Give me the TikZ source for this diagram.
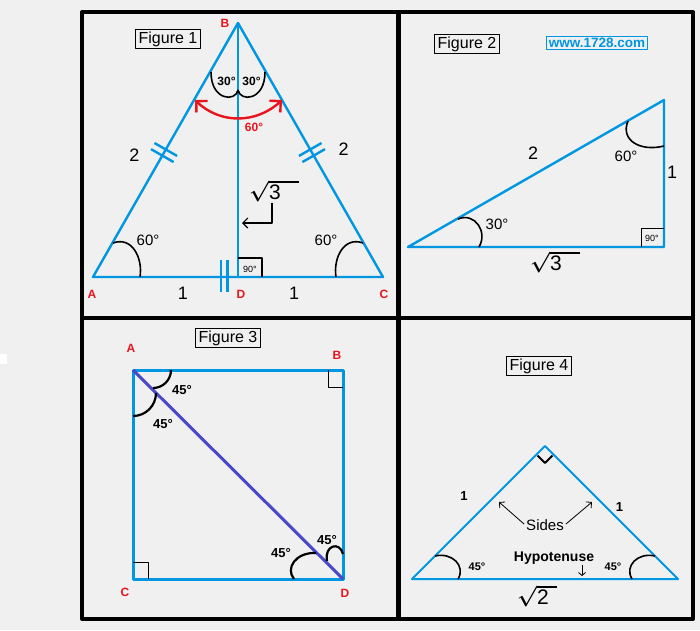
\documentclass[tikz,border=0pt]{standalone}
\usepackage{fontspec}
\setmainfont{Liberation Sans}
\usetikzlibrary{arrows.meta, calc, positioning}
\definecolor{skyline}{RGB}{0,150,225}
\definecolor{vred}{RGB}{232,20,30}
\definecolor{diagblue}{RGB}{72,72,200}
\definecolor{paper}{RGB}{240,240,240}
\tikzset{
    side/.style = {draw=skyline, line width=2.4pt},
    angarc/.style = {draw, line width=1.6pt},
    vtx/.style = {text=vred, font=\bfseries\fontsize{12}{12}\selectfont, inner sep=0pt},
    figbox/.style = {draw, line width=0.8pt, inner xsep=3pt, inner ysep=2pt,
                     font=\fontsize{16}{16}\selectfont},
    deg/.style = {font=\bfseries\fontsize{12}{12}\selectfont, inner sep=0pt},
    bigdeg/.style = {font=\fontsize{15}{15}\selectfont, inner sep=0pt},
    num/.style = {font=\fontsize{18}{18}\selectfont, inner sep=0pt},
    small/.style = {font=\fontsize{9}{9}\selectfont, inner sep=0pt},
    root/.style = {font=\fontsize{21}{21}\selectfont\boldmath, inner sep=0pt},
    rtbox/.style = {draw, line width=0.8pt},
    ptr/.style = {-{Straight Barb[length=5pt,width=10pt]}, line width=1.2pt}
}

\begin{document}
\begin{tikzpicture}[
      x = 1pt, y = -1pt, % pixel grid, y going down
      line join = round
    ]
    \useasboundingbox[fill=paper] (0,0) rectangle (700,630);
    \fill[white] (0,354) rectangle (7,364);

    % frame
    \draw[line width=4pt] (82,12) rectangle (693,619);
    \draw[line width=4.5pt] (398.5,12) -- (398.5,619);
    \draw[line width=4pt] (82,318) -- (693,318);

    % Figure 1
    \node[figbox] (f1) at (168,39) {Figure 1};
    \coordinate (A1) at (93,277);
    \coordinate (B1) at (238,23);
    \coordinate (C1) at (383,277);
    \coordinate (D1) at (238,277);
    \node[vtx] (a1) at (92,294) {A};
    \node[vtx] (b1) at (225,23) {B};
    \node[vtx] (c1) at (384,294) {C};
    \node[vtx] (d1) at (241,294) {D};

    \draw[side] (A1) -- (B1) -- (C1) -- cycle;
    \draw[side] (B1) -- (D1);
    \foreach \p in {0.478,0.502} {
      \draw[side] ($(A1)!\p!(B1)!13pt!90:(B1)$) -- ($(A1)!\p!(B1)!13pt!-90:(B1)$);
      \draw[side] ($(C1)!\p!(B1)!13pt!90:(B1)$) -- ($(C1)!\p!(B1)!13pt!-90:(B1)$);
    }
    \foreach \dx in {-17,-10.5}
      \draw[side] ($(D1)+(\dx,-17)$) -- ++(0,32);

    \node[num] (s1) at (134.5,155) {2};
    \node[num] (s2) at (343.5,149) {2};
    \node[num] (s3) at (183,293) {1};
    \node[num] (s4) at (294,293) {1};

    \draw[angarc] (211,72) .. controls (211,101) and (236,102) .. (238,90);
    \draw[angarc] (238,90) .. controls (240,102) and (265,101) .. (265,72);
    \node[deg] (g1) at (226.5,81) {30°};
    \node[deg] (g2) at (251.5,81) {30°};

    \coordinate (r1) at (195,100);
    \coordinate (r2) at (282,100);
    \draw[draw=vred, line width=2.4pt,
          {Straight Barb[length=8pt,width=16pt]}-{Straight Barb[length=8pt,width=16pt]}]
          (r1) .. controls (220,124) and (256,124) .. (r2);
    \node[deg, text=vred] (g3) at (254,127) {60°};

    \draw[angarc] (113,243) .. controls (132,236) and (143,258) .. (140,277);
    \draw[angarc] (363,243) .. controls (344,236) and (333,258) .. (336,277);
    \node[bigdeg] (g4) at (148,240) {60°};
    \node[bigdeg] (g5) at (326,240) {60°};

    \draw[line width=2pt] ($(D1)+(0,-19)$) -| ($(D1)+(24,0)$);
    \node[small] (g6) at (250,269) {90°};

    \node[root] (q1) at (274,191) {$\sqrt{\hbox{3}\hspace{18pt}}$};
    \coordinate (q1tip) at (242,223);
    \draw[ptr] (272,203) |- (q1tip);

    % Figure 2
    \node[figbox] (f2) at (467,44) {Figure 2};
    \node[draw=skyline, line width=0.8pt, text=skyline, inner xsep=2pt, inner ysep=1.5pt,
          font=\bfseries\fontsize{13.5}{13.5}\selectfont] (w) at (597,43) {www.1728.com};
    \coordinate (P2) at (408,247);
    \coordinate (Q2) at (664,247);
    \coordinate (R2) at (664,100);
    \draw[side] (P2) -- (Q2) -- (R2) -- cycle;
    \draw[angarc] (628,121) .. controls (620,140) and (640,152) .. (664,146);
    \draw[angarc] (458,219) .. controls (475,212) and (488,232) .. (479,247);
    \draw[rtbox] ($(Q2)+(-23,0)$) |- ($(Q2)+(0,-19)$);
    \node[small] (h1) at (652,238) {90°};
    \node[bigdeg] (h2) at (626,156) {60°};
    \node[bigdeg] (h3) at (497,224) {30°};
    \node[num] (h4) at (533,153) {2};
    \node[num] (h5) at (672,172) {1};
    \node[root] (q2) at (555,262) {$\sqrt{\hbox{3}\hspace{18pt}}$};

    % Figure 3
    \node[figbox] (f3) at (228,338) {Figure 3};
    \coordinate (A3) at (133,370);
    \coordinate (B3) at (343,370);
    \coordinate (C3) at (133,579);
    \coordinate (D3) at (343,579);
    \node[vtx] (a3) at (131,348) {A};
    \node[vtx] (b3) at (337,355) {B};
    \node[vtx] (c3) at (125,592) {C};
    \node[vtx] (d3) at (345,593) {D};
    \draw[side, line width=3pt] (A3) -- (B3) -- (D3) -- (C3) -- cycle;
    \draw[draw=diagblue, line width=3pt] (A3) -- (D3);
    \draw[rtbox] ($(B3)+(-15,0)$) |- ($(B3)+(0,17)$);
    \draw[rtbox] ($(C3)+(0,-17)$) -| ($(C3)+(15,0)$);
    \draw[angarc, line width=2.2pt] (171,370) arc[start angle=0, end angle=90, radius=18];
    \draw[angarc, line width=2.2pt] (156,393) arc[start angle=0, end angle=90, radius=23];
    \draw[angarc, line width=2.2pt] (316,553) .. controls (296,552) and (285,568) .. (294,579);
    \draw[angarc, line width=2.2pt] (327,561) .. controls (324,545) and (340,541) .. (343,554);
    \node[deg, font=\bfseries\fontsize{13}{13}\selectfont] (k1) at (182,390) {45°};
    \node[deg, font=\bfseries\fontsize{13}{13}\selectfont] (k2) at (163,424) {45°};
    \node[deg, font=\bfseries\fontsize{13}{13}\selectfont] (k3) at (281,553) {45°};
    \node[deg, font=\bfseries\fontsize{13}{13}\selectfont] (k4) at (327,540) {45°};

    % Figure 4
    \node[figbox] (f4) at (539,366) {Figure 4};
    \coordinate (L4) at (412,579);
    \coordinate (T4) at (545,446);
    \coordinate (R4) at (678,579);
    \draw[side, line width=2pt] (L4) -- (T4) -- (R4) -- cycle;
    \draw[line width=2pt] ($(T4)+(-7.5,9.5)$) -- ($(T4)+(0,17)$) -- ($(T4)+(7.5,9.5)$);
    \draw[angarc] (435,556) .. controls (452,552) and (466,566) .. (458,579);
    \draw[angarc] (655,556) .. controls (638,552) and (624,566) .. (632,579);
    \node[deg, font=\bfseries\fontsize{11}{11}\selectfont] (m1) at (477,567) {45°};
    \node[deg, font=\bfseries\fontsize{11}{11}\selectfont] (m2) at (613,567) {45°};
    \node[deg, font=\bfseries\fontsize{13}{13}\selectfont] (m3) at (464,496) {1};
    \node[deg, font=\bfseries\fontsize{13}{13}\selectfont] (m4) at (619.5,507) {1};
    \node[font=\fontsize{15}{15}\selectfont, inner sep=1pt] (sd) at (545,525) {Sides};
    \coordinate (sdl) at (499,502);
    \coordinate (sdr) at (592,502);
    \draw[-{Straight Barb[length=4pt,width=8pt]}, line width=0.8pt] (sd.west) ++(-1,-1) -- (sdl);
    \draw[-{Straight Barb[length=4pt,width=8pt]}, line width=0.8pt] (sd.east) ++(1,-1) -- (sdr);
    \node[font=\bfseries\fontsize{14}{14}\selectfont, inner sep=1pt] (hy) at (554,558) {Hypotenuse};
    \coordinate (hytip) at (582,576);
    \draw[-{Straight Barb[length=3pt,width=7pt]}, line width=0.8pt] (582,565) -- (hytip);
    \node[root] (q4) at (537,596) {$\sqrt{\hbox{2}\hspace{8pt}}$};
\end{tikzpicture}
\end{document}
